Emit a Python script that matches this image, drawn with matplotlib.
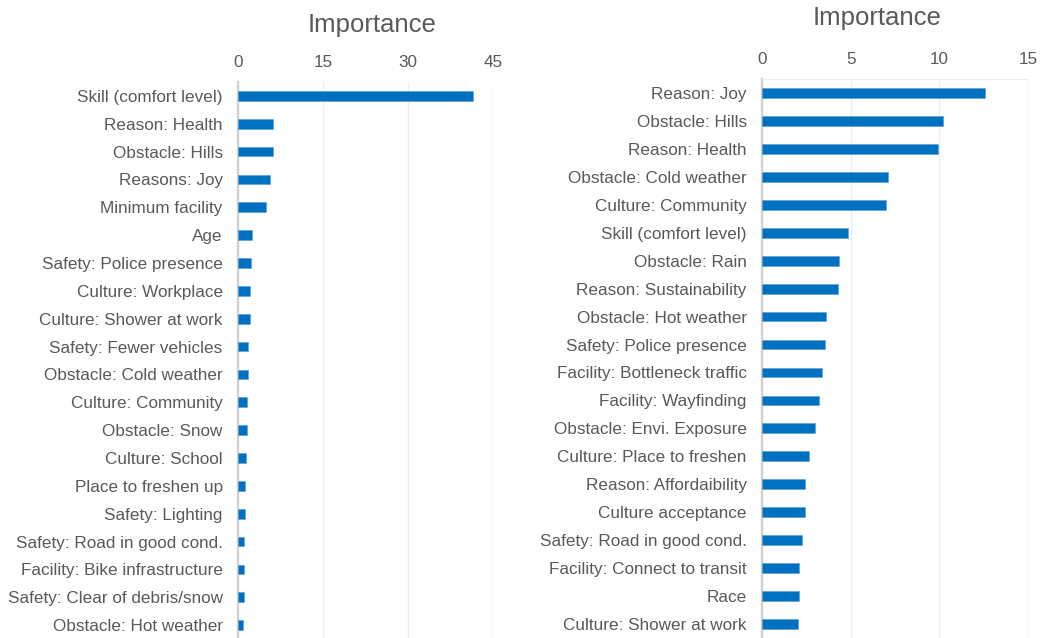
import matplotlib.pyplot as plt
import numpy as np

plt.rcParams['font.family'] = ['Liberation Sans', 'DejaVu Sans']

# left panel: all respondents
left_labels = ['Skill (comfort level)', 'Reason: Health', 'Obstacle: Hills', 'Reasons: Joy',
               'Minimum facility', 'Age', 'Safety: Police presence', 'Culture: Workplace',
               'Culture: Shower at work', 'Safety: Fewer vehicles', 'Obstacle: Cold weather',
               'Culture: Community', 'Obstacle: Snow', 'Culture: School', 'Place to freshen up',
               'Safety: Lighting', 'Safety: Road in good cond.', 'Facility: Bike infrastructure',
               'Safety: Clear of debris/snow', 'Obstacle: Hot weather']
left_values = [41.4, 6.2, 6.1, 5.6, 4.9, 2.4, 2.35, 2.2, 2.15, 1.75, 1.7, 1.6, 1.55, 1.4,
               1.25, 1.2, 1.05, 1.0, 1.0, 0.9]
left_ticks = [0, 15, 30, 45]

# right panel
right_labels = ['Reason: Joy', 'Obstacle: Hills', 'Reason: Health', 'Obstacle: Cold weather',
                'Culture: Community', 'Skill (comfort level)', 'Obstacle: Rain',
                'Reason: Sustainability', 'Obstacle: Hot weather', 'Safety: Police presence',
                'Facility: Bottleneck traffic', 'Facility: Wayfinding', 'Obstacle: Envi. Exposure',
                'Culture: Place to freshen', 'Reason: Affordaibility', 'Culture acceptance',
                'Safety: Road in good cond.', 'Facility: Connect to transit', 'Race',
                'Culture: Shower at work']
right_values = [12.6, 10.2, 9.95, 7.1, 7.0, 4.85, 4.33, 4.28, 3.6, 3.56, 3.38, 3.23, 2.98,
                2.63, 2.44, 2.42, 2.25, 2.06, 2.06, 2.04]
right_ticks = [0, 5, 10, 15]

W, H = 1041, 638
BLUE = '#0070C0'
TEXT = '#595959'

fig = plt.figure(figsize=(W / 100, H / 100), dpi=100)


def panel(rect, labels, values, ticks, top_line):
    x0, x1, y0, y1 = rect
    ax = fig.add_axes([x0 / W, 1 - y1 / H, (x1 - x0) / W, (y1 - y0) / H])
    y = np.arange(len(labels))
    ax.barh(y, values, height=0.35, color=BLUE, edgecolor='#5b9bd5', linewidth=0.4, zorder=3)
    ax.set_ylim(len(labels) - 0.5, -0.5)
    ax.set_xlim(ticks[0], ticks[-1])
    ax.set_yticks(y)
    ax.set_yticklabels(labels, fontsize=12.3, color=TEXT)
    ax.set_xticks(ticks)
    ax.set_xticklabels([str(t) for t in ticks], fontsize=12.3, color=TEXT)
    ax.xaxis.tick_top()
    ax.tick_params(axis='x', length=0, pad=8.5)
    ax.tick_params(axis='y', length=0, pad=11)
    ax.grid(axis='x', color='#EDEDED', linewidth=1.0, zorder=0)
    for s in ['right', 'bottom']:
        ax.spines[s].set_visible(False)
    ax.spines['top'].set_visible(top_line)
    ax.spines['top'].set_color('#EDEDED')
    ax.spines['left'].set_color('#D0D0D0')
    ax.spines['left'].set_linewidth(1.6)
    ax.set_facecolor('none')
    return ax


panel((238, 493, 82, 639), left_labels, left_values, left_ticks, False)
panel((762, 1028, 79, 638), right_labels, right_values, right_ticks, True)

fig.text(372 / W, 1 - 25 / H, 'Importance', fontsize=18.5, color=TEXT, ha='center', va='center')
fig.text(877 / W, 1 - 18 / H, 'Importance', fontsize=18.5, color=TEXT, ha='center', va='center')

fig.savefig('out.png', dpi=100)
